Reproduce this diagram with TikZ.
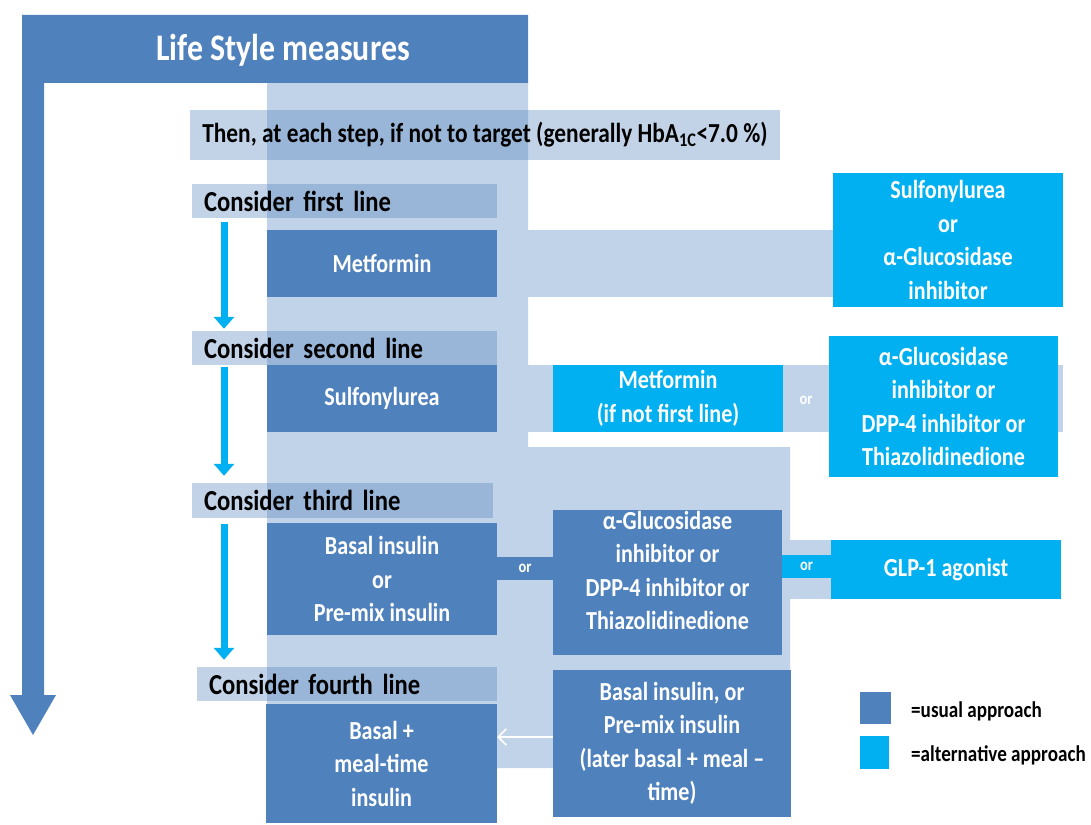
\documentclass[tikz,border=0pt]{standalone}
\usepackage{fontspec}
\setmainfont{Carlito}[FakeStretch=0.85]
\usetikzlibrary{arrows.meta,backgrounds}
\definecolor{usualblue}{HTML}{4F81BD}
\definecolor{altcyan}{HTML}{00B0F0}
\definecolor{paleblue}{HTML}{C1D3E8}

\begin{document}
\begin{tikzpicture}[x=1pt, y=-1pt,
  sz/.style 2 args={minimum width=#1pt, minimum height=#2pt},
  boxtxt/.style={text=white, align=center, font=\bfseries\fontsize{26}{33.5}\selectfont},
  usual/.style={fill=usualblue, inner sep=0pt, boxtxt},
  alt/.style={usual, fill=altcyan},
  stepbar/.style={fill=usualblue, fill opacity=0.35, text opacity=1, inner ysep=0pt,
    inner xsep=12pt, align=left, font=\bfseries\fontsize{29}{32}\selectfont},
  ortext/.style={text=white, font=\bfseries\fontsize{17}{18}\selectfont},
  steparrow/.style={altcyan, line width=7pt, -{Triangle[width=20pt,length=12pt]}},
  legtxt/.style={anchor=west, inner sep=0pt, font=\bfseries\fontsize{22.5}{24}\selectfont}
]
\useasboundingbox (0,0) rectangle (1091,824);

% big life style arrow
\fill[usualblue] (22,15) -- (528,15) -- (528,83) -- (44,83) -- (44,695) -- (56,695)
  -- (33,735) -- (10,695) -- (22,695) -- cycle;
\node[text=white, font=\bfseries\fontsize{37.5}{40}\selectfont] (life) at (283,50) {Life Style measures};

% step bars
\node[stepbar, sz={586}{50}, align=center, font=\bfseries\fontsize{27.5}{30}\selectfont] (target) at (485,135)
  {Then, at each step, if not to target (generally HbA\textsubscript{1C}<7.0 \%)};
\node[stepbar, sz={305}{34}, text width=281pt] (c1) at (344.5,201) {Consider first line};
\node[stepbar, sz={305}{34}, text width=281pt] (c2) at (344.5,348) {Consider second line};
\node[stepbar, sz={301}{35}, text width=277pt] (c3) at (342.5,500.5) {Consider third line};
\node[stepbar, sz={300}{34}, text width=276pt] (c4) at (347,684) {Consider fourth line};

% first line
\node[usual, sz={230}{67}] (met) at (382,263.5) {Metformin};
\node[alt, sz={230}{134}] (alt1) at (948,240) {Sulfonylurea\\or\\α-Glucosidase\\inhibitor};

% second line
\node[usual, sz={230}{67}] (sul) at (382,398.5) {Sulfonylurea};
\node[alt, sz={230}{67}] (alt2a) at (668,398.5) {Metformin\\(if not first line)};
\node[alt, sz={229}{141}] (alt2b) at (943.5,406.5)
  {α-Glucosidase\\inhibitor or\\DPP-4 inhibitor or\\Thiazolidinedione};

% third line
\node[usual, sz={230}{112}] (bas) at (382,579) {Basal insulin\\or\\Pre-mix insulin};
\node[usual, sz={229}{145}, label={[boxtxt, yshift=12pt]center:{α-Glucosidase\\inhibitor or\\DPP-4 inhibitor or\\Thiazolidinedione}}]
  (oral3) at (667.5,582.5) {};
\node[alt, sz={230}{59}] (glp) at (946,569.5) {GLP-1 agonist};

% fourth line
\node[usual, sz={231}{119}] (bmt) at (381.5,763.5) {Basal +\\meal-time\\insulin};
\node[usual, sz={238}{147}] (ins4) at (672,743.5)
  {Basal insulin, or\\Pre-mix insulin\\(later basal + meal –\\time)};

% legend
\node[usual, sz={31}{32}] (legu) at (875.5,708) {};
\node[alt, sz={29}{33}] (lega) at (874.5,752.5) {};
\node[legtxt] (legutxt) at (911,711) {=usual approach};
\node[legtxt] (legatxt) at (911,755) {=alternative approach};

\begin{scope}[on background layer]
  \fill[paleblue] (267,83) -- (528,83) -- (528,447) -- (790,447) -- (790,768) -- (267,768) -- cycle;
  \draw[paleblue, line width=67pt] (met.east) -- (met.east -| alt1.west);
  \draw[paleblue, line width=67pt, shorten >=-5pt] (sul.east) -- (sul.east -| alt2b.east);
  \draw[paleblue, line width=59pt] ([yshift=13pt]oral3.east) -- (glp.west);
  \draw[usualblue, line width=23pt] ([yshift=10.5pt]bas.east) -- ([yshift=14pt]oral3.west);
  \draw[altcyan, line width=23pt] ([yshift=16pt]oral3.east) -- ([yshift=3pt]glp.west);
\end{scope}

% or labels
\path ([yshift=10.5pt]bas.east) -- ([yshift=14pt]oral3.west) node[midway, ortext] (or3) {or};
\path ([yshift=16pt]oral3.east) -- ([yshift=3pt]glp.west) node[midway, ortext] (orglp) {or};
\path (alt2a.east) -- (alt2a.east -| alt2b.west) node[midway, ortext, yshift=-1.5pt] (or2) {or};

% step arrows
\coordinate (ax) at (224,0);
\draw[steparrow, shorten <=4pt, shorten >=2pt] (c1.south -| ax) -- (c2.north -| ax);
\draw[steparrow, shorten <=2pt, shorten >=7pt] (c2.south -| ax) -- (c3.north -| ax);
\draw[steparrow, shorten <=6pt, shorten >=7pt] (c3.south -| ax) -- (c4.north -| ax);

% fourth line arrow
\draw[white, line width=1.5pt, -{Straight Barb[length=8pt,width=16pt]}]
  ([yshift=6.5pt]ins4.west) -- ([yshift=26.5pt]bmt.east);
\end{tikzpicture}
\end{document}
